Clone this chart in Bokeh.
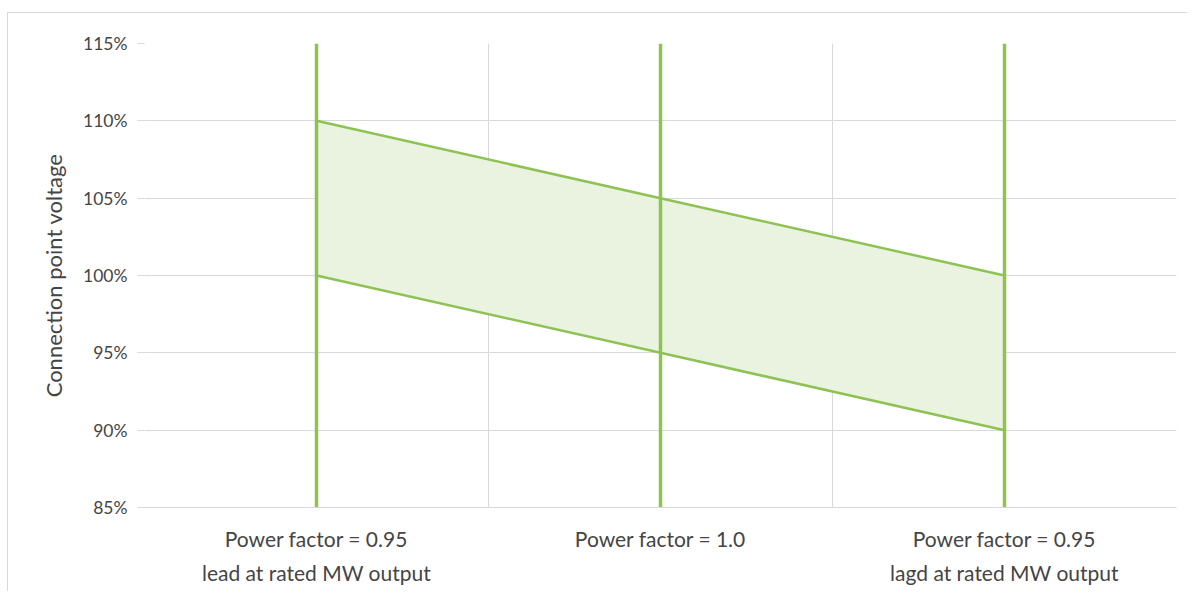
from bokeh.plotting import figure
from bokeh.models import Range1d, FixedTicker, NumeralTickFormatter, ColumnDataSource
from bokeh.embed import file_html
from bokeh.resources import INLINE

categories = ["Power factor = 0.95\nlead at rated MW output",
              "Power factor = 1.0",
              "Power factor = 0.95\nlagd at rated MW output"]
upper = [1.10, 1.05, 1.00]
lower = [1.00, 0.95, 0.90]
bar_low = [0.85, 0.85, 0.85]
bar_high = [1.15, 1.15, 1.15]
y_ticks = [0.85, 0.90, 0.95, 1.00, 1.05, 1.10, 1.15]

xs = [i + 0.5 for i in range(len(categories))]
src = ColumnDataSource(dict(x=xs, upper=upper, lower=lower, lo=bar_low, hi=bar_high))

FONT = "Lato"
GREEN = "#8FC255"
TEXT = "#454545"

p = figure(width=1180, height=579, output_backend="svg", toolbar_location=None,
           x_range=Range1d(0, len(categories)), y_range=Range1d(0.85, 1.15),
           min_border_left=136, min_border_top=30, min_border_right=12, min_border_bottom=85)
p.outline_line_color = None
p.styles = {"margin-left": "7px", "margin-top": "12px",
            "border-left": "1px solid #D9D9D9", "border-top": "1px solid #D9D9D9"}

p.varea(x="x", y1="lower", y2="upper", source=src, fill_color="#E9F3DF", fill_alpha=1.0)
p.line(x="x", y="upper", source=src, line_color=GREEN, line_width=2.5)
p.line(x="x", y="lower", source=src, line_color=GREEN, line_width=2.5)
p.segment(x0="x", y0="lo", x1="x", y1="hi", source=src, line_color=GREEN, line_width=3.5)

p.xaxis.ticker = FixedTicker(ticks=xs)
p.xaxis.major_label_overrides = {x: c for x, c in zip(xs, categories)}
p.xaxis.axis_line_color = "#D9D9D9"
p.xaxis.major_tick_line_color = None
p.xaxis.minor_tick_line_color = None
p.xaxis.major_label_standoff = 12
p.xaxis.major_label_text_font = FONT
p.xaxis.major_label_text_font_size = "21px"
p.xaxis.major_label_text_color = TEXT
p.xaxis.major_label_text_line_height = 1.36

p.yaxis.ticker = FixedTicker(ticks=y_ticks)
p.yaxis.formatter = NumeralTickFormatter(format="0%")
p.yaxis.axis_line_color = None
p.yaxis.major_tick_line_color = "#D9D9D9"
p.yaxis.major_tick_out = 7
p.yaxis.major_tick_in = 0
p.yaxis.minor_tick_line_color = None
p.yaxis.major_label_standoff = 10
p.yaxis.major_label_text_font = FONT
p.yaxis.major_label_text_font_size = "17.5px"
p.yaxis.major_label_text_color = TEXT
p.yaxis.axis_label = "Connection point voltage"
p.yaxis.axis_label_text_font = FONT
p.yaxis.axis_label_text_font_size = "22px"
p.yaxis.axis_label_text_font_style = "normal"
p.yaxis.axis_label_text_color = TEXT
p.yaxis.axis_label_standoff = 13

p.xgrid.ticker = FixedTicker(ticks=list(range(len(categories) + 1)))
p.xgrid.grid_line_color = "#D9D9D9"
p.ygrid.ticker = FixedTicker(ticks=y_ticks)
p.ygrid.grid_line_color = "#D9D9D9"

open("out.html", "w").write(file_html(p, INLINE))
